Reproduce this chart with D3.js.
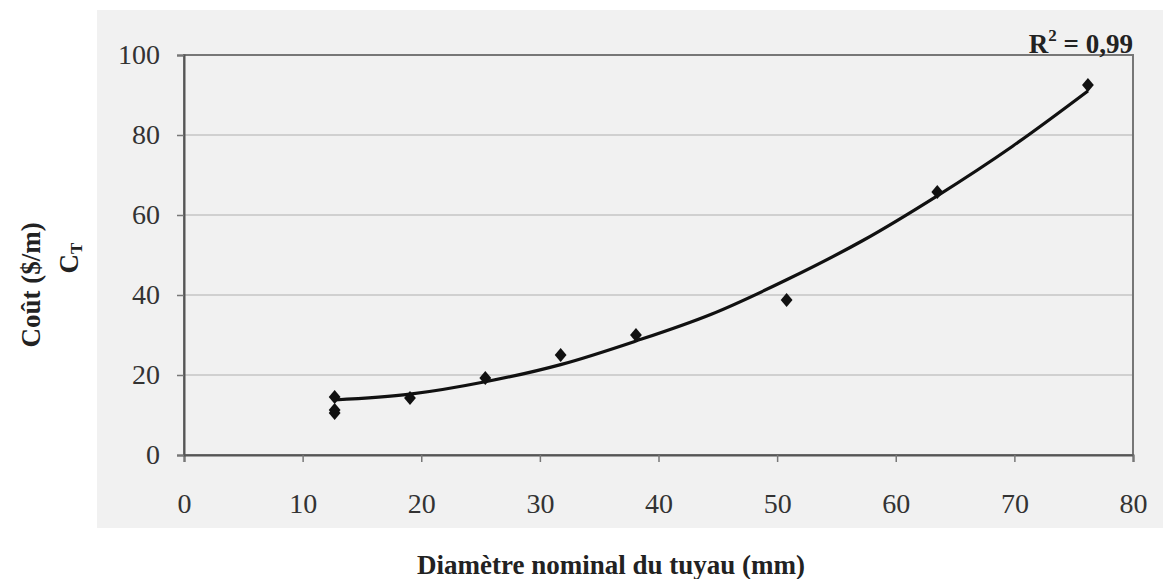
<!DOCTYPE html>
<html>
<head>
<meta charset="utf-8">
<script src="https://cdn.jsdelivr.net/npm/d3@7"></script>
<style>
  body { margin: 0; background: #fff; }
  svg { display: block; font-family: "Liberation Serif", "DejaVu Serif", serif; }
</style>
</head>
<body>
<svg id="chart" width="1163" height="579"></svg>
<script>
// measured points (diameter in mm, cost in $/m)
const diam = [12.7, 12.7, 12.7, 19.05, 25.4, 31.75, 38.1, 50.8, 63.5, 76.2];
const cost = [14.5, 11.25, 10.5, 14.25, 19.25, 25, 30, 38.75, 65.75, 92.5];

// trend line
const trendX = [12.7, 19.05, 25.4, 31.75, 38.1, 44.45, 50.8, 57.15, 63.5, 69.85, 76.2];
const trendY = [13.75, 15.2, 18.3, 22.6, 28.5, 35.2, 43.8, 53.5, 64.8, 77.2, 91];

const xTicks = [0, 10, 20, 30, 40, 50, 60, 70, 80];
const yTicks = [0, 20, 40, 60, 80, 100];

let svg = d3.select("#chart");
let margin = {left: 184, top: 55, right: 30, bottom: 124};
let width = 1133 - margin.left,
    height = 455 - margin.top;

// grey panel behind the chart
svg.append("rect")
    .attr("x", 97).attr("y", 10)
    .attr("width", 1163 - 97).attr("height", 528 - 10)
    .attr("fill", "#f1f1f1");

let x = d3.scaleLinear().domain([0, 80]).range([0, width]);
let y = d3.scaleLinear().domain([0, 100]).range([height, 0]);

let g = svg.append("g")
    .attr("transform", "translate(" + margin.left + "," + margin.top + ")");

// gridlines
g.selectAll(".grid")
    .data(yTicks.filter(d => d > 0 && d < 100))
    .enter().append("line")
    .attr("x1", 0).attr("x2", width)
    .attr("y1", d => y(d)).attr("y2", d => y(d))
    .attr("stroke", "#c4c4c4").attr("stroke-width", 1.5);

// frame
g.append("rect")
    .attr("width", width).attr("height", height)
    .attr("fill", "none").attr("stroke", "#777").attr("stroke-width", 2);

let xAxis = g.append("g")
    .attr("transform", "translate(0," + height + ")")
    .call(d3.axisBottom(x).tickValues(xTicks).tickSize(7).tickPadding(31));
let yAxis = g.append("g")
    .call(d3.axisLeft(y).tickValues(yTicks).tickSize(7).tickPadding(17));

[xAxis, yAxis].forEach(a => {
    a.select(".domain").attr("stroke", "#555").attr("stroke-width", 2);
    a.selectAll(".tick line").attr("stroke", "#777").attr("stroke-width", 1.5);
    a.selectAll(".tick text")
        .attr("font-family", "Liberation Serif")
        .attr("font-size", 28).attr("fill", "#333");
});

// trend line
let line = d3.line()
    .x(d => x(d[0])).y(d => y(d[1]))
    .curve(d3.curveCatmullRom);
g.append("path")
    .datum(d3.zip(trendX, trendY))
    .attr("d", line)
    .attr("fill", "none").attr("stroke", "#111").attr("stroke-width", 3.2);

// diamond markers, a little taller than wide
g.selectAll(".pt")
    .data(d3.zip(diam, cost))
    .enter().append("path")
    .attr("d", d3.symbol(d3.symbolDiamond2, 105))
    .attr("transform", d => "translate(" + x(d[0]) + "," + y(d[1]) + ") scale(0.92,1.1)")
    .attr("fill", "#111");

// R² label
let r2 = svg.append("text")
    .attr("x", 1133).attr("y", 53)
    .attr("text-anchor", "end")
    .attr("font-size", 27).attr("font-weight", "bold").attr("fill", "#222");
r2.append("tspan").text("R");
r2.append("tspan").attr("font-size", 17).attr("dy", -12).text("2");
r2.append("tspan").attr("dy", 12).text(" = 0,99");

// axis titles
svg.append("text")
    .attr("x", 611).attr("y", 574)
    .attr("text-anchor", "middle")
    .attr("font-size", 27).attr("font-weight", "bold").attr("fill", "#222")
    .text("Diamètre nominal du tuyau (mm)");

svg.append("text")
    .attr("transform", "translate(40,285) rotate(-90)")
    .attr("text-anchor", "middle")
    .attr("font-size", 27).attr("font-weight", "bold").attr("fill", "#222")
    .text("Coût ($/m)");

let ct = svg.append("text")
    .attr("transform", "translate(78,258) rotate(-90)")
    .attr("text-anchor", "middle")
    .attr("font-size", 27).attr("font-weight", "bold").attr("fill", "#222");
ct.append("tspan").text("C");
ct.append("tspan").attr("font-size", 17).attr("dy", 4).text("T");
</script>
</body>
</html>
